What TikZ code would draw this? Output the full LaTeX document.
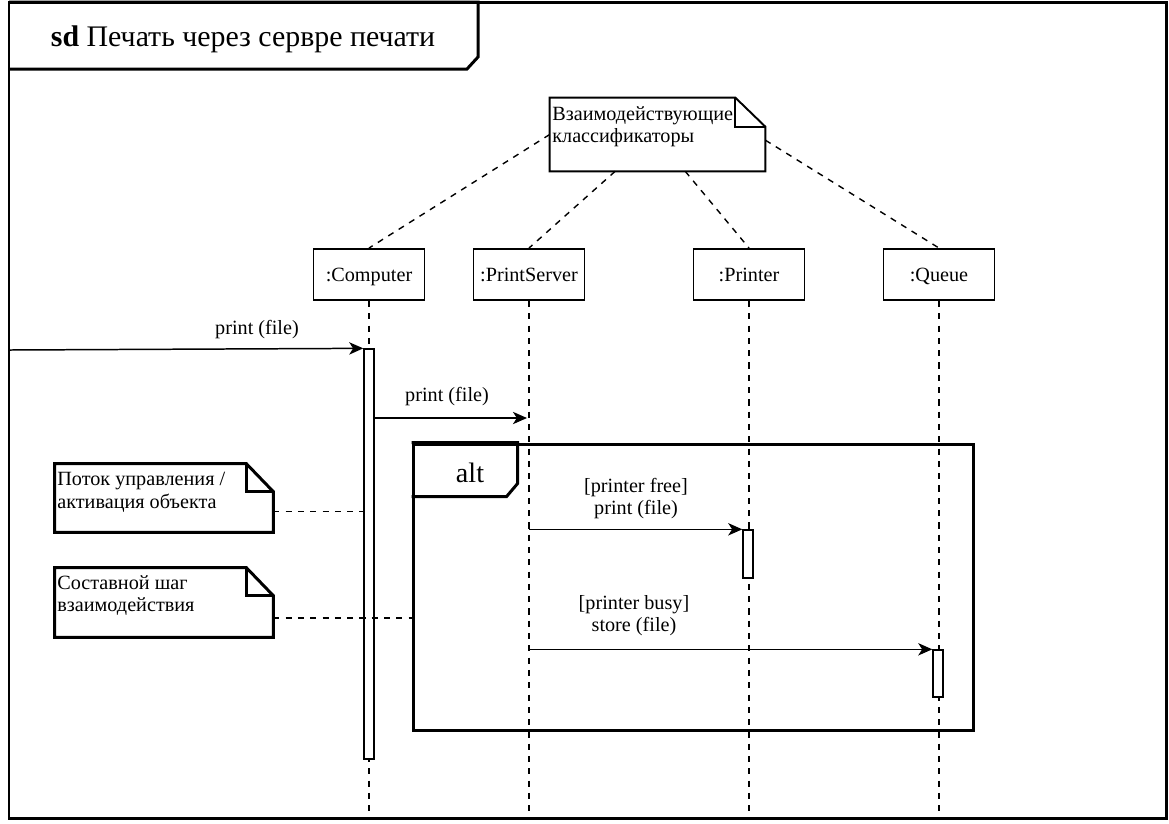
\documentclass[tikz,border=0pt]{standalone}
\usepackage{fontspec}
\setmainfont{Liberation Serif}
\usetikzlibrary{arrows.meta,positioning,calc}

\tikzset{
  frm/.style={line width=1.7pt},
  head/.style={draw,line width=1.1pt,minimum width=2.22cm,minimum height=1.02cm,inner sep=0pt,text height=9pt,text depth=0.5pt,font=\fontsize{11.5}{13}\selectfont},
  life/.style={line width=.8pt,dash pattern=on 3.5pt off 3.5pt},
  act/.style={draw,line width=.8pt,fill=white,minimum width=0.2cm,inner sep=0pt},
  msg/.style={line width=.85pt,-{Stealth[length=8pt,width=7pt,inset=2.2pt]}},
  lbl/.style={font=\fontsize{11.5}{12.5}\selectfont,align=center,inner sep=0pt},
  notebody/.style={inner sep=0pt,minimum width=4.36cm},
  notetxt/.style={font=\fontsize{11.5}{12.8}\selectfont,align=left,anchor=north west,inner sep=0pt},
  link/.style={line width=.8pt,dash pattern=on 3.5pt off 3.5pt},
}

\begin{document}
\begin{tikzpicture}[x=0.02cm,y=-0.02cm]
\useasboundingbox (0,0) rectangle (1169,823);

% frame and title
\draw[frm] (9,2) rectangle (1166,818);
\draw[frm] (9,2) -- (478,2) -- (478,57) -- (467,69) -- (9,69);
\node[font=\fontsize{17}{19}\selectfont,anchor=base] (title) at (243,46) {\textbf{sd} Печать через сервре печати};

% lifeline heads
\node[head] (comp) at (369,274.5) {:Computer};
\node[head] (ps) at (529,274.5) {:PrintServer};
\node[head] (prn) at (749,274.5) {:Printer};
\node[head] (que) at (939,274.5) {:Queue};
\coordinate (bot) at (0,818);
\foreach \h in {comp,ps,prn,que}
  \draw[life] (\h.south) -- (\h.south |- bot);

% top note
\node[notebody,minimum width=4.3cm,minimum height=1.46cm] (cls) at (657.5,134.5) {};
\draw[line width=1.1pt,fill=white] (cls.north west) -- ($(cls.north east)+(-30,0)$) -- ($(cls.north east)+(0,29)$) -- (cls.south east) -- (cls.south west) -- cycle;
\draw[line width=1.1pt] ($(cls.north east)+(-30,0)$) |- ($(cls.north east)+(0,29)$);
\node[notetxt] (clstxt) at (552,106) {Взаимодействующие\\классификаторы};
\draw[link] (cls.west) -- (comp.north);
\draw[link] (cls.221) -- (ps.north);
\draw[link] (cls.307) -- (prn.north);
\draw[link] (cls.357) -- (que.north);

% activations
\node[act,minimum height=8.2cm] (actC) at (369,554) {};
\node[act,minimum height=0.96cm] (actP) at (748,554) {};
\node[act,minimum height=0.94cm] (actQ) at (938,673.5) {};

% messages
\coordinate (src) at (9,350);
\draw[msg] (src) -- (actC.north west);
\node[lbl] (m1) at (257,330) {print (file)};
\coordinate (m2e) at (527,418);
\draw[msg] (actC.east |- m2e) -- (m2e);
\node[lbl] (m2) at (447,397) {print (file)};

% alt fragment
\node[draw,frm,minimum width=11.22cm,minimum height=5.74cm,inner sep=0pt] (alt) at (693.5,587.5) {};
\draw[frm] (alt.north west) -- ++(106,0) -- ++(0,41) -- ++(-11,13) -- ++(-95,0);
\node[font=\fontsize{16}{18}\selectfont] (altlbl) at (470,473) {alt};
\draw[msg] (ps.south |- actP.north) -- (actP.north west);
\node[lbl] (m3) at (636,499) {[printer free]\\print (file)};
\draw[msg] (ps.south |- actQ.north) -- (actQ.north west);
\node[lbl] (m4) at (634,616) {[printer busy]\\store (file)};

% left notes
\node[notebody,minimum height=1.36cm] (ctl) at (164,498) {};
\node[notebody,minimum height=1.38cm] (step) at (164,602.5) {};
\foreach \n in {ctl,step}{
  \draw[frm,fill=white] (\n.north west) -- ($(\n.north east)+(-27,0)$) -- ($(\n.north east)+(0,28)$) -- (\n.south east) -- (\n.south west) -- cycle;
  \draw[frm] ($(\n.north east)+(-27,0)$) |- ($(\n.north east)+(0,28)$);
}
\node[notetxt] (ctltxt) at (57,472) {Поток управления /\\активация объекта};
\node[notetxt] (steptxt) at (57,575) {Составной шаг\\взаимодействия};
\draw[link] (ctl.353) -- (ctl.353 -| actC.west);
\draw[link] (step.352) -- (step.352 -| alt.west);
\end{tikzpicture}
\end{document}
